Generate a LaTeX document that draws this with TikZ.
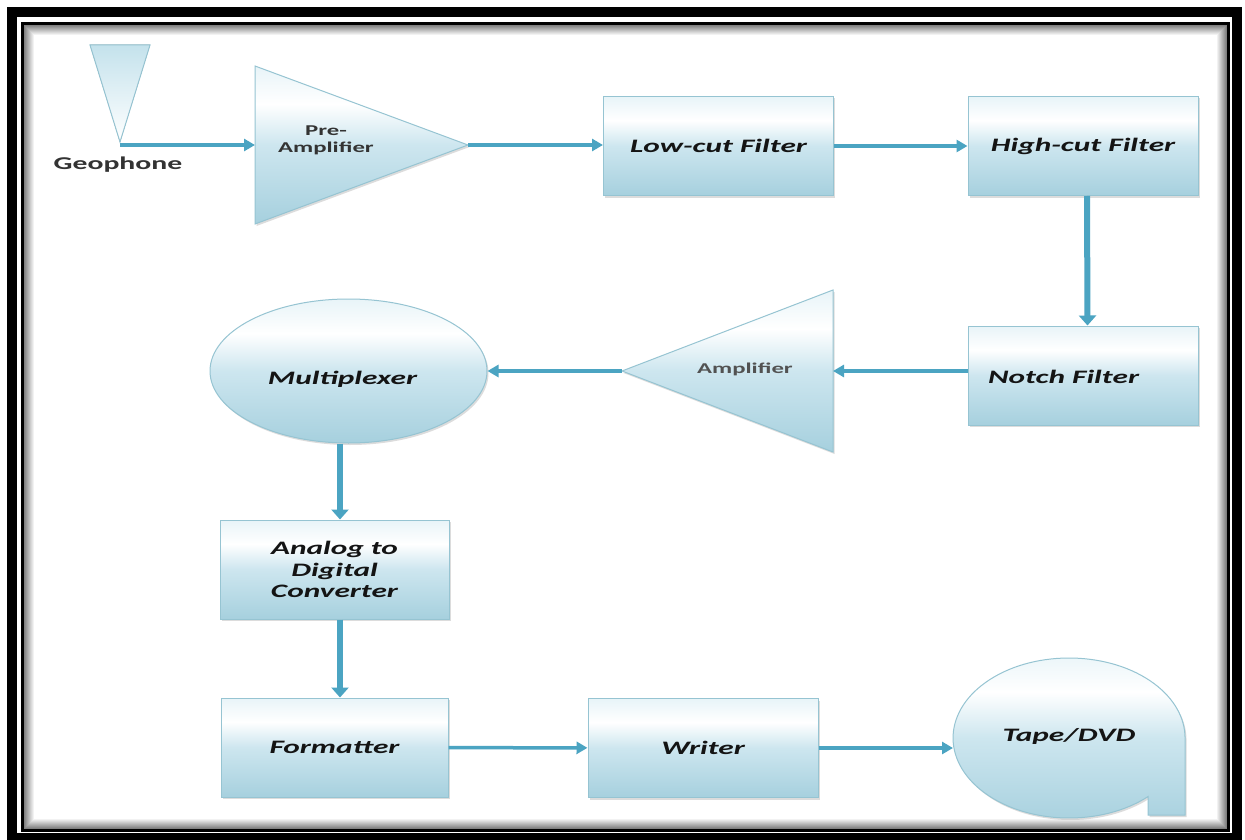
\documentclass[tikz,border=0pt]{standalone}
\usepackage{fontspec}
\newfontfamily\lblfont{Carlito}[FakeStretch=1.65]
\usetikzlibrary{arrows.meta,shapes.geometric,shadows}
\definecolor{arrowc}{RGB}{75,164,194}
\definecolor{edgec}{RGB}{150,196,210}
\definecolor{boxtop}{RGB}{232,244,248}
\definecolor{boxmid}{RGB}{205,230,239}
\definecolor{boxbot}{RGB}{166,208,222}
\definecolor{geotop}{RGB}{196,226,236}
\pgfdeclareverticalshading{boxshade}{100bp}{color(0bp)=(boxbot); color(25bp)=(boxbot); color(50bp)=(boxmid); color(63bp)=(white); color(75bp)=(boxtop); color(100bp)=(boxtop)}
\tikzset{
  softshadow/.style={drop shadow={shadow xshift=1.5pt,shadow yshift=-2pt,opacity=.3,fill=black!45}},
  box/.style={shape=rectangle, draw=edgec, line width=1pt, shade, shading=boxshade,
    minimum width=230pt, minimum height=99pt, inner sep=2pt, align=center,
    font=\lblfont\bfseries\itshape\fontsize{19}{21.5}\selectfont, text=black!92, softshadow},
  roundbox/.style={box, shape=ellipse},
  shapefill/.style={draw=edgec, line width=1pt, shading=boxshade},
  lbl/.style={inner sep=0pt, align=center, font=\lblfont\bfseries\itshape\fontsize{19}{21.5}\selectfont, text=black!92},
  amptext/.style={inner sep=0pt, align=center, font=\lblfont\bfseries\fontsize{15}{17}\selectfont},
  arr/.style={draw=arrowc, line width=3.5pt, -{Triangle[length=11pt,width=12pt]}},
  varr/.style={draw=arrowc, line width=6pt, -{Triangle[length=10pt,width=17pt]}}
}
\begin{document}
\begin{tikzpicture}[x=1pt,y=-1pt]
\useasboundingbox (0,0) rectangle (1245,840);
\fill[white] (0,0) rectangle (1245,840);
% frame
\draw[line width=10pt] (12,12.5) rectangle (1237,838);
\foreach \i in {0,...,9}{
  \pgfmathtruncatemacro\g{50-5*\i}
  \draw[black!\g, line width=1pt] (24.5+\i,25.5+\i) rectangle (1226.5-\i,828.5-\i);
}
\draw[line width=3pt] (22.5,23.5) rectangle (1228.5,830.5);

% geophone
\filldraw[draw=edgec, line width=1pt, top color=geotop, bottom color=white] (90,45) -- (150,45) -- (120,142) -- cycle;
\coordinate (geo) at (120,145);
\node[amptext, font=\lblfont\bfseries\fontsize{18}{20}\selectfont, text=black!80] (geolbl) at (118,165) {Geophone};

% pre-amplifier
\shadedraw[shapefill, softshadow] (255,66) -- (468,145) -- (255,224) -- cycle;
\coordinate (preIn) at (255,145);
\coordinate (preOut) at (468,145);
\node[amptext, text=black!80] (prelbl) at (326,140) {Pre-\\Amplifier};

% filters
\node[box] (lowcut) at (718.5,146) {Low-cut Filter};
\node[box] (highcut) at (1083,146) {High-cut Filter};
\node[box, label={[lbl, xshift=-20pt, yshift=-1.5pt]center:Notch Filter}] (notch) at (1083.5,375.5) {};

% amplifier
\shadedraw[shapefill, softshadow] (833,290) -- (833,452) -- (622,371) -- cycle;
\coordinate (ampIn) at (833,371);
\coordinate (ampOut) at (622,371);
\node[amptext, text=black!68] (amplbl) at (745,369) {Amplifier};

% multiplexer
\node[roundbox, minimum width=277pt, minimum height=144pt, label={[lbl, xshift=-6pt, yshift=-8pt]center:Multiplexer}] (mux) at (348.5,371) {};

% ADC, formatter, writer
\node[box, minimum width=229pt] (adc) at (334.5,569.5) {Analog to\\Digital\\Converter};
\node[box, minimum width=227pt] (formatter) at (334.5,747.5) {Formatter};
\node[box] (writer) at (703,748) {Writer};

% tape/dvd
\shadedraw[shapefill, softshadow] (1148,815) -- (1148,796.6)
  arc[start angle=47.1, end angle=360, x radius=116, y radius=80] -- (1185,815) -- cycle;
\node[lbl] (tape) at (1069,736) {Tape/DVD};
\coordinate (tapeIn) at (953,748);

% connectors
\draw[arr] (geo) -- (preIn);
\draw[arr] (preOut) -- (preOut -| lowcut.west);
\draw[arr] (lowcut) -- (highcut);
\draw[varr] ([xshift=4pt]highcut.south) -- ([xshift=4pt]notch.north);
\draw[arr] (notch.west |- ampIn) -- (ampIn);
\draw[arr] (ampOut) -- (mux.east);
\draw[varr] ([xshift=-8.5pt]mux.south) -- ([xshift=5.5pt]adc.north);
\draw[varr] ([xshift=5.5pt]adc.south) -- ([xshift=5.5pt]formatter.north);
\draw[arr] (formatter) -- (writer);
\draw[arr] (writer.east) -- (tapeIn);
\end{tikzpicture}
\end{document}
